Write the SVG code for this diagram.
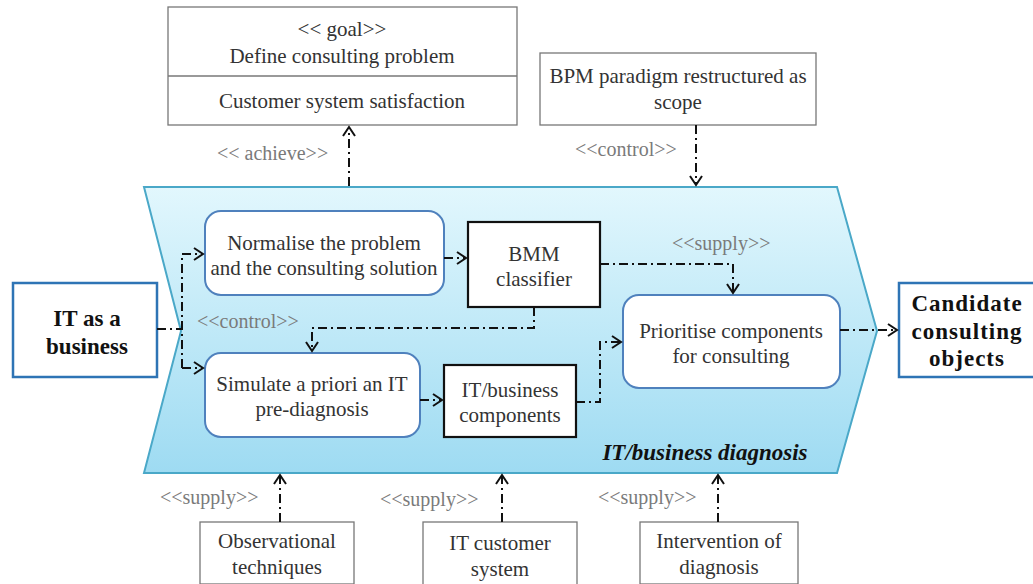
<svg xmlns="http://www.w3.org/2000/svg" width="1033" height="584" viewBox="0 0 1033 584">
<defs>
<linearGradient id="chev" x1="0" y1="0" x2="0" y2="1">
<stop offset="0" stop-color="#e2f7fd"/>
<stop offset="1" stop-color="#9edbf2"/>
</linearGradient>
<marker id="arr" markerWidth="14" markerHeight="14" refX="11" refY="7" orient="auto" markerUnits="userSpaceOnUse">
<path d="M2,1 L11,7 L2,13" fill="none" stroke="#111" stroke-width="2"/>
</marker>
<style>
.t{font-family:"Liberation Serif","Times New Roman",serif;font-size:21px;fill:#333;text-anchor:middle}
.lbl{font-family:"Liberation Serif","Times New Roman",serif;font-size:20px;fill:#7a7a7a}
.b{font-family:"Liberation Serif","Times New Roman",serif;font-size:23px;font-weight:bold;fill:#111;text-anchor:middle}
.gbox{fill:#fff;stroke:#777;stroke-width:1.3}
.rbox{fill:#fff;stroke:#4f81bd;stroke-width:2}
.kbox{fill:#fff;stroke:#111;stroke-width:2.2}
.bbox{fill:#fff;stroke:#2e74b5;stroke-width:2.5}
.c{fill:none;stroke:#111;stroke-width:2;stroke-dasharray:9 4 2 4}
</style>
</defs>
<g id="diagnosis">
<path d="M144,187 L837,187 L877,331 L837,473 L144,473 L181,331 Z" fill="url(#chev)" stroke="#4aa8c8" stroke-width="2"/>
<text x="705" y="460" font-family="Liberation Serif,serif" font-size="23" font-weight="bold" font-style="italic" fill="#111" text-anchor="middle">IT/business diagnosis</text>
</g>
<g id="goal">
<rect class="gbox" x="168" y="7" width="349" height="118"/>
<line x1="168" y1="76" x2="517" y2="76" stroke="#777" stroke-width="1.3"/>
<text class="t" x="342" y="36">&lt;&lt; goal&gt;&gt;</text>
<text class="t" x="342" y="63">Define consulting problem</text>
<text class="t" x="342" y="108">Customer system satisfaction</text>
</g>
<g id="bpm">
<rect class="gbox" x="540" y="53" width="276" height="72"/>
<text class="t" x="678" y="83">BPM paradigm restructured as</text>
<text class="t" x="678" y="109">scope</text>
</g>
<g id="itbusiness">
<rect class="bbox" x="13" y="283" width="144" height="94"/>
<text class="b" x="87" y="326">IT as a</text>
<text class="b" x="87" y="354">business</text>
</g>
<g id="normalise">
<rect class="rbox" x="205" y="211" width="239" height="84" rx="16"/>
<text class="t" x="324" y="250">Normalise the problem</text>
<text class="t" x="324" y="275">and the consulting solution</text>
</g>
<g id="bmm">
<rect class="kbox" x="468" y="222" width="132" height="85"/>
<text class="t" x="534" y="261">BMM</text>
<text class="t" x="534" y="286">classifier</text>
</g>
<g id="simulate">
<rect class="rbox" x="205" y="353" width="215" height="84" rx="16"/>
<text class="t" x="312" y="391">Simulate a priori an IT</text>
<text class="t" x="312" y="416">pre-diagnosis</text>
</g>
<g id="components">
<rect class="kbox" x="444" y="365" width="132" height="72"/>
<text class="t" x="510" y="397">IT/business</text>
<text class="t" x="510" y="422">components</text>
</g>
<g id="prioritise">
<rect class="rbox" x="623" y="295" width="217" height="93" rx="16"/>
<text class="t" x="731" y="338">Prioritise components</text>
<text class="t" x="731" y="363">for consulting</text>
</g>
<g id="candidate">
<rect class="bbox" x="899" y="283" width="140" height="94"/>
<text class="b" x="967" y="311" letter-spacing="1">Candidate</text>
<text class="b" x="967" y="339" letter-spacing="1">consulting</text>
<text class="b" x="967" y="366" letter-spacing="1">objects</text>
</g>
<g id="observational">
<rect class="gbox" x="200" y="522" width="154" height="62"/>
<text class="t" x="277" y="548">Observational</text>
<text class="t" x="277" y="574">techniques</text>
</g>
<g id="itcustomer">
<rect class="gbox" x="423" y="522" width="154" height="64"/>
<text class="t" x="500" y="550">IT customer</text>
<text class="t" x="500" y="576">system</text>
</g>
<g id="intervention">
<rect class="gbox" x="640" y="522" width="158" height="62"/>
<text class="t" x="719" y="548">Intervention of</text>
<text class="t" x="719" y="574">diagnosis</text>
</g>
<g id="connectors">
<path class="c" d="M349,186 L349,127" marker-end="url(#arr)"/>
<text class="lbl" x="217" y="160">&lt;&lt; achieve&gt;&gt;</text>
<path class="c" d="M696,125 L696,185" marker-end="url(#arr)"/>
<text class="lbl" x="575" y="156">&lt;&lt;control&gt;&gt;</text>
<path class="c" d="M157,329 L182,329"/>
<path class="c" d="M182,368 L182,254"/>
<path class="c" d="M182,254 L203,254" marker-end="url(#arr)"/>
<path class="c" d="M182,368 L203,368" marker-end="url(#arr)"/>
<path class="c" d="M444,258 L466,258" marker-end="url(#arr)"/>
<path class="c" d="M534,307 L534,328 L312,328 L312,351" marker-end="url(#arr)"/>
<text class="lbl" x="197" y="328">&lt;&lt;control&gt;&gt;</text>
<path class="c" d="M600,264 L733,264 L733,293" marker-end="url(#arr)"/>
<text class="lbl" x="672" y="250">&lt;&lt;supply&gt;&gt;</text>
<path class="c" d="M420,400 L442,400" marker-end="url(#arr)"/>
<path class="c" d="M576,402 L600,402 L600,342 L621,342" marker-end="url(#arr)"/>
<path class="c" d="M840,330 L897,330" marker-end="url(#arr)"/>
<path class="c" d="M280,522 L280,475" marker-end="url(#arr)"/>
<text class="lbl" x="160" y="504">&lt;&lt;supply&gt;&gt;</text>
<path class="c" d="M502,522 L502,475" marker-end="url(#arr)"/>
<text class="lbl" x="380" y="506">&lt;&lt;supply&gt;&gt;</text>
<path class="c" d="M718,522 L718,475" marker-end="url(#arr)"/>
<text class="lbl" x="598" y="504">&lt;&lt;supply&gt;&gt;</text>
</g>
</svg>
